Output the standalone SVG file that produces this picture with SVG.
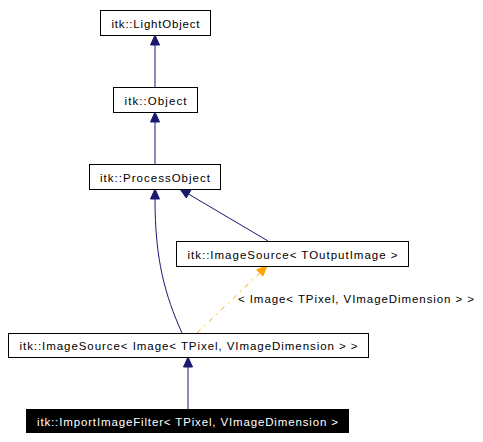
<svg xmlns="http://www.w3.org/2000/svg" width="483" height="442" viewBox="0 0 483 442">
<style>
.box{fill:#ffffff;stroke:#000000;stroke-width:1}
.lbl{font-family:"Liberation Sans",Arial,sans-serif;font-size:11.5px;fill:#000000;text-anchor:middle}
.inh{fill:none;stroke:#191970;stroke-width:1}
.tpl{fill:none;stroke:#ffa500;stroke-width:1;stroke-dasharray:5,5,1.5,5}
.ah{fill:#191970;stroke:#191970}
.ao{fill:#ffa500;stroke:#ffa500}
</style>
<rect width="483" height="442" fill="#ffffff"/>
<g id="connectors">
  <path class="inh" d="M155,87 L155,45"/>
  <polygon class="ah" points="155,35 150.5,45 159.5,45"/>
  <path class="inh" d="M155,164 L155,122"/>
  <polygon class="ah" points="155,112 150.5,122 159.5,122"/>
  <path class="inh" d="M182,333 C165,295 155,260 155,199"/>
  <polygon class="ah" points="155,189 150.5,199 159.5,199"/>
  <path class="inh" d="M268,241 L188.6,194.1"/>
  <polygon class="ah" points="180,189 186.3,198 190.9,190.2"/>
  <path class="tpl" d="M197,333 L259.8,272.9"/>
  <polygon class="ao" points="267,266 256.7,269.6 262.9,276.1"/>
  <text class="lbl" x="238" y="303" style="text-anchor:start" textLength="236" lengthAdjust="spacing">&lt; Image&lt; TPixel, VImageDimension &gt; &gt;</text>
  <path class="inh" d="M188,409 L188,367"/>
  <polygon class="ah" points="188,357 183.5,367 192.5,367"/>
</g>
<g id="n_lightobject">
  <rect class="box" x="100.5" y="10.5" width="110" height="25"/>
  <text class="lbl" x="155.5" y="27.5" textLength="88" lengthAdjust="spacing">itk::LightObject</text>
</g>
<g id="n_object">
  <rect class="box" x="113.5" y="87.5" width="84" height="25"/>
  <text class="lbl" x="155.5" y="104.5" textLength="62" lengthAdjust="spacing">itk::Object</text>
</g>
<g id="n_processobject">
  <rect class="box" x="89.5" y="164.5" width="131" height="25"/>
  <text class="lbl" x="155" y="181.5" textLength="110" lengthAdjust="spacing">itk::ProcessObject</text>
</g>
<g id="n_imagesource_t">
  <rect class="box" x="176.5" y="241.5" width="232" height="25"/>
  <text class="lbl" x="292.5" y="258.5" textLength="210" lengthAdjust="spacing">itk::ImageSource&lt; TOutputImage &gt;</text>
</g>
<g id="n_imagesource_img">
  <rect class="box" x="8.5" y="333.5" width="360" height="24"/>
  <text class="lbl" x="188.5" y="350" textLength="338" lengthAdjust="spacing">itk::ImageSource&lt; Image&lt; TPixel, VImageDimension &gt; &gt;</text>
</g>
<g id="n_importimagefilter">
  <rect x="26" y="409" width="323" height="24" fill="#000000"/>
  <text class="lbl" x="187.5" y="425.5" style="fill:#ffffff" textLength="301" lengthAdjust="spacing">itk::ImportImageFilter&lt; TPixel, VImageDimension &gt;</text>
</g>
</svg>
